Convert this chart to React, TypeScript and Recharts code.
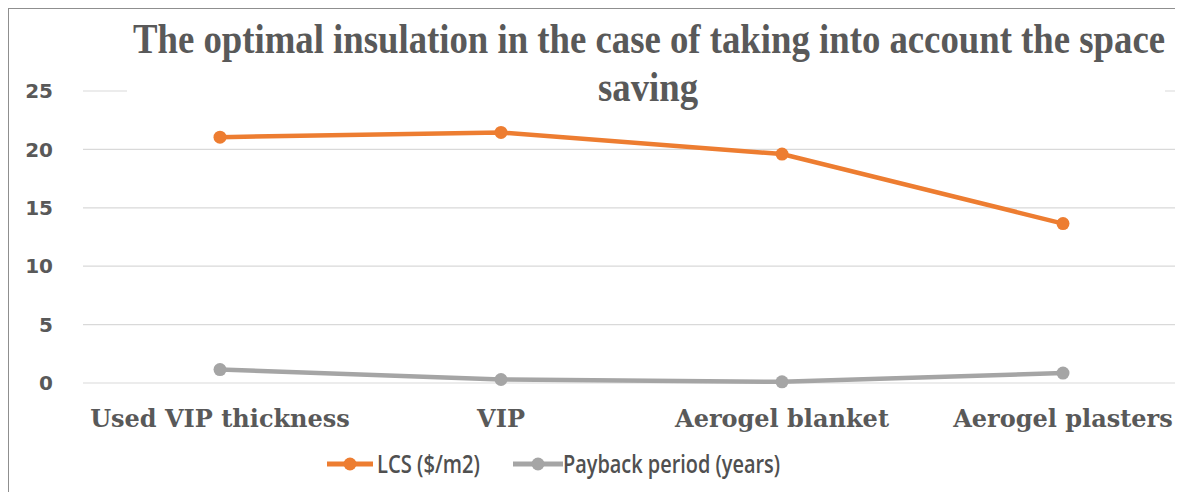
import React from 'react'
import { LineChart, Line, XAxis, YAxis, CartesianGrid, Legend } from 'recharts'

const categories = ['Used VIP thickness', 'VIP', 'Aerogel blanket', 'Aerogel plasters']
const lcsValues = [21.05, 21.45, 19.6, 13.65]
const paybackValues = [1.15, 0.3, 0.1, 0.85]
const yTicks = [0, 5, 10, 15, 20, 25]

const titleLines = ['The optimal insulation in the case of taking into account the space', 'saving']

const ORANGE = '#ED7D31'
const GRAY = '#A5A5A5'
const TEXT = '#595959'
const SQUEEZE = 0.85 // タイトルは横に詰まっている

const data = categories.map((name, i) => ({
  name,
  lcs: lcsValues[i],
  payback: paybackValues[i],
}))

// legend drawn by hand so the icon is a line with a filled dot
const renderLegend = () => (
  <svg width={1183} height={59}>
    <line x1={327} y1={31} x2={373} y2={31} stroke={ORANGE} strokeWidth={5} />
    <circle cx={350} cy={31} r={6.5} fill={ORANGE} />
    <text x={377} y={40} fontFamily="Open Sans" fontWeight={600} fontSize={26} fill="#505050" textLength={103} lengthAdjust="spacingAndGlyphs">
      LCS ($/m2)
    </text>
    <line x1={513} y1={31} x2={563} y2={31} stroke={GRAY} strokeWidth={5} />
    <circle cx={538} cy={31} r={6.5} fill={GRAY} />
    <text x={563} y={40} fontFamily="Open Sans" fontWeight={600} fontSize={26} fill="#505050" textLength={217} lengthAdjust="spacingAndGlyphs">
      Payback period (years)
    </text>
  </svg>
)

export default function App() {
  return (
    <div
      style={{
        position: 'relative',
        marginLeft: -1,
        marginTop: -1,
        width: 1173,
        height: 520,
        border: '2px solid #8f8f8f',
        boxSizing: 'border-box',
        background: '#fff',
      }}
    >
      {/* 枠の内側から見た座標 (枠は x=7, y=7) */}
      <div style={{ position: 'absolute', left: -9, top: -9 }}>
        <LineChart width={1183} height={492} data={data} margin={{ top: 91, right: 3, bottom: 0, left: 0 }}>
          <CartesianGrid vertical={false} stroke="#d9d9d9" strokeWidth={1.2} />
          <XAxis
            dataKey="name"
            axisLine={false}
            tickLine={false}
            tickSize={0}
            tickMargin={27}
            height={50}
            padding={{ left: 137, right: 117 }}
            interval={0}
            tick={{ fontFamily: 'DejaVu Serif', fontWeight: 'bold', fontSize: 24, fill: TEXT }}
          />
          <YAxis
            domain={[0, 25]}
            ticks={yTicks}
            axisLine={false}
            tickLine={false}
            tickSize={0}
            tickMargin={30}
            width={83}
            tick={{ fontFamily: 'DejaVu Sans', fontWeight: 'bold', fontSize: 20, fill: TEXT }}
          />
          <Legend
            verticalAlign="bottom"
            content={renderLegend}
            wrapperStyle={{ left: 0, bottom: 0, width: 1183, height: 59 }}
          />
          <Line
            dataKey="lcs"
            name="LCS ($/m2)"
            stroke={ORANGE}
            strokeWidth={4.5}
            dot={{ r: 6.5, fill: ORANGE, stroke: ORANGE, strokeWidth: 0 }}
            isAnimationActive={false}
          />
          <Line
            dataKey="payback"
            name="Payback period (years)"
            stroke={GRAY}
            strokeWidth={4.5}
            dot={{ r: 6.5, fill: GRAY, stroke: GRAY, strokeWidth: 0 }}
            isAnimationActive={false}
          />
        </LineChart>
      </div>
      {/* タイトル */}
      <svg style={{ position: 'absolute', left: -9, top: -9, pointerEvents: 'none' }} width={1183} height={120}>
        <rect x={127} y={14} width={1038} height={96} fill="#fff" />
        <g transform={`translate(133,53) scale(${SQUEEZE},1)`}>
          <text x={0} y={0} fontFamily="Liberation Serif" fontWeight="bold" fontSize={42} fill={TEXT} textLength={1032 / SQUEEZE} lengthAdjust="spacingAndGlyphs">
            {titleLines[0]}
          </text>
        </g>
        <g transform={`translate(598,101) scale(${SQUEEZE},1)`}>
          <text x={0} y={0} fontFamily="Liberation Serif" fontWeight="bold" fontSize={42} fill={TEXT} textLength={100 / SQUEEZE} lengthAdjust="spacingAndGlyphs">
            {titleLines[1]}
          </text>
        </g>
      </svg>
    </div>
  )
}
